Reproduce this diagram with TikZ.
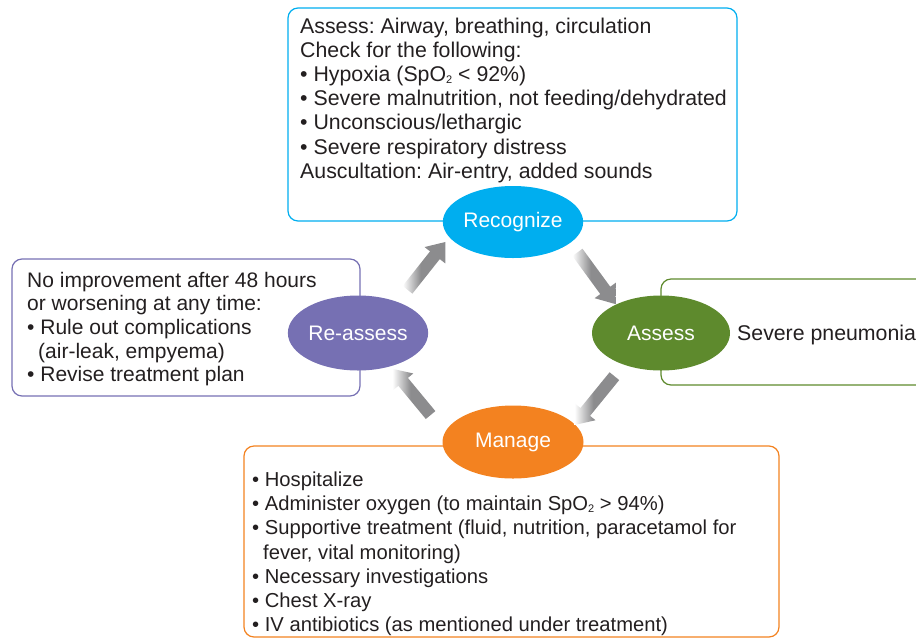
\documentclass[tikz,border=0pt]{standalone}
\usepackage{fontspec}
\setmainfont{Liberation Sans}
\frenchspacing
\usetikzlibrary{shapes.geometric,shapes.arrows}
\definecolor{cblue}{RGB}{0,174,239}
\definecolor{cpurple}{RGB}{118,112,179}
\definecolor{cgreen}{RGB}{94,138,45}
\definecolor{corange}{RGB}{243,130,32}
\definecolor{ctext}{RGB}{35,31,32}
\definecolor{cgray}{RGB}{140,140,142}
\pgfdeclarehorizontalshading{arrowfade}{100bp}{color(0bp)=(white); color(25bp)=(white); color(46bp)=(cgray); color(100bp)=(cgray)}
\newcommand{\subtwo}{\raisebox{-0.2ex}{\fontsize{11}{11}\selectfont 2}}
\begin{document}
\begin{tikzpicture}[x=1pt,y=-1pt,
  box/.style={draw, line width=1.2pt, rounded corners=10pt},
  oval/.style={ellipse, inner sep=0pt, text=white, font=\fontsize{21}{24}\selectfont},
  body/.style={anchor=base west, align=left, inner sep=0pt, text=ctext, font=\fontsize{21.3}{24.2}\selectfont},
  blockarr/.style={single arrow, shading=arrowfade, draw=none, inner sep=0pt, text height=6pt, text depth=6pt, single arrow head extend=7pt, single arrow tip angle=76}
]
\useasboundingbox (0,0) rectangle (916,641);
\clip (0,0) rectangle (916,641);
% boxes
\draw[box, draw=cblue] (288,8) rectangle (737,221);
\draw[box, draw=cpurple] (12,259) rectangle (360,396);
\draw[box, draw=cgreen] (661,279) rectangle (940,385);
\draw[box, draw=corange] (244,446) rectangle (779,637);
% texts (anchored at the baseline of the last line)
\node[body] (rtext) at (300,178.3) {Assess: Airway, breathing, circulation\\Check for the following:\\• Hypoxia (SpO\subtwo{} < 92\%)\\• Severe malnutrition, not feeding/dehydrated\\• Unconscious/lethargic\\• Severe respiratory distress\\Auscultation: Air-entry, added sounds};
\node[body, font=\fontsize{21}{23.6}\selectfont] (ltext) at (27,381.7) {No improvement after 48 hours\\or worsening at any time:\\• Rule out complications\\\hspace*{11pt}(air-leak, empyema)\\• Revise treatment plan};
\node[body] (atext) at (737,340) {Severe pneumonia};
\node[body, font=\fontsize{20.2}{24.2}\selectfont] (mtext) at (252,631.7) {• Hospitalize\\• Administer oxygen (to maintain SpO\subtwo{} > 94\%)\\• Supportive treatment (fluid, nutrition, paracetamol for\\\hspace*{11pt}fever, vital monitoring)\\• Necessary investigations\\• Chest X-ray\\• IV antibiotics (as mentioned under treatment)};
% ellipses
\node[oval, fill=cblue, minimum width=138pt, minimum height=72pt] (recognize) at (513,222) {Recognize};
\node[oval, fill=cpurple, minimum width=138pt, minimum height=75pt] (reassess) at (358,333) {Re-assess};
\node[oval, fill=cgreen, minimum width=138pt, minimum height=75pt] (assess) at (661,333) {Assess};
\node[oval, fill=corange, minimum width=141pt, minimum height=73pt] (manage) at (513,442) {Manage};
% block arrows between the ellipses
\node[blockarr, rotate=51.6, minimum height=61pt] (arr1) at (424,269) {};
\node[blockarr, rotate=-53.8, minimum height=64pt] (arr2) at (594,275) {};
\node[blockarr, rotate=230.8, minimum height=63pt] (arr3) at (597,397.5) {};
\node[blockarr, rotate=129.6, minimum height=60pt] (arr4) at (414,395) {};
\end{tikzpicture}
\end{document}
